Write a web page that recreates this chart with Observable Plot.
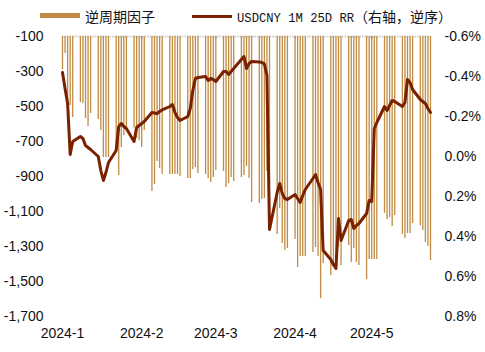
<!DOCTYPE html>
<html>
<head>
<meta charset="utf-8">
<script src="https://cdn.jsdelivr.net/npm/d3@7"></script>
<script src="https://cdn.jsdelivr.net/npm/@observablehq/plot@0.6"></script>
<style>
  body { margin: 0; background: #fff; }
  #wrap { width: 485px; height: 352px; position: relative; background: #fff; }
  #legend { position: relative; width: 485px; height: 27px; }
  .sw { position: absolute; }
  .lt { position: absolute; top: 6px; line-height: 20px; font-size: 14px; color: #111;
        font-family: "Noto Sans CJK SC", sans-serif; white-space: nowrap; }
  .mono { font-family: "Liberation Mono", "DejaVu Sans Mono", monospace; font-size: 12.2px; }
</style>
</head>
<body>
<div id="wrap">
  <div id="legend">
    <div class="sw" style="left:40px;top:13px;width:40px;height:5px;background:#C08B42"></div>
    <div class="lt" style="left:85px">逆周期因子</div>
    <div class="sw" style="left:192px;top:15px;width:40px;height:3px;background:#7A2100"></div>
    <div class="lt" style="left:237px"><span class="mono">USDCNY 1M 25D RR</span>（右轴，逆序）</div>
  </div>
  <div id="chart"></div>
</div>
<script>
// Mondays of each week; each row below holds Mon..Fri values
const weekStarts = ["2024-01-01","2024-01-08","2024-01-15","2024-01-22","2024-01-29",
  "2024-02-05","2024-02-12","2024-02-19","2024-02-26","2024-03-04","2024-03-11",
  "2024-03-18","2024-03-25","2024-04-01","2024-04-08","2024-04-15","2024-04-22",
  "2024-04-29","2024-05-06","2024-05-13","2024-05-20"];

// 逆周期因子 (left axis)
const factor = [
  [-289, -197, -466, -494, -563],
  [-477, -483, -569, -614, -540],
  [-574, -637, -791, -791, -791],
  [-751, -894, -734, -666, -637],
  [-623, -683, -694, -734, -637],
  [-986, -946, -814, -854, -889],
  [-889, -889, -889, -889, -900],
  [-911, -911, -860, -849, -883],
  [-889, -911, -934, -906, -866],
  [-871, -963, -940, -906, -929],
  [-906, -894, -843, -911, -1049],
  [-1054, -1031, -1026, -871, -951],
  [-1231, -1083, -1283, -1323, -1311],
  [-1260, -1420, -1357, -1357, -1357],
  [-1334, -1306, -1357, -1597, -1397],
  [-1466, -1420, -1414, -1306, -1409],
  [-1294, -1391, -1311, -1391, -1409],
  [-1489, -1374, -1374, -1374, -1374],
  [-1111, -1146, -1134, -1186, -1123],
  [-1231, -1254, -1226, -1226, -1169],
  [-1180, -1209, -1277, -1300, -1380]
];

// USDCNY 1M 25D RR, % (right axis, reversed)
const rr = [
  [-0.42, -0.34, -0.265, -0.01, -0.075],
  [-0.10, -0.09, -0.055, -0.045, -0.035],
  [0.00, 0.07, 0.12, 0.08, 0.03],
  [-0.03, -0.15, -0.165, -0.15, -0.14],
  [-0.075, -0.145, -0.155, -0.165, -0.175],
  [-0.22, -0.218, -0.214, -0.225, -0.233],
  [-0.25, -0.26, -0.22, -0.195, -0.18],
  [-0.20, -0.24, -0.33, -0.39, -0.395],
  [-0.40, -0.38, -0.39, -0.385, -0.375],
  [-0.425, -0.425, -0.41, -0.425, -0.44],
  [-0.485, -0.50, -0.44, -0.465, -0.475],
  [-0.473, -0.47, -0.463, -0.405, 0.365],
  [0.18, 0.135, 0.185, 0.21, 0.215],
  [0.19, 0.21, 0.23, 0.195, 0.165],
  [0.11, 0.09, 0.13, 0.165, 0.47],
  [0.515, 0.54, 0.56, 0.31, 0.42],
  [0.32, 0.315, 0.36, 0.345, 0.335],
  [0.285, 0.22, 0.225, -0.14, -0.17],
  [-0.25, -0.23, -0.255, -0.28, -0.275],
  [-0.25, -0.27, -0.385, -0.37, -0.335],
  [-0.285, -0.275, -0.265, -0.24, -0.22]
];

const leftTicks = [-100, -300, -500, -700, -900, -1100, -1300, -1500, -1700];
const rightTicks = [-0.6, -0.4, -0.2, 0.0, 0.2, 0.4, 0.6, 0.8];
const rightLabels = ["-0.6%", "-0.4%", "-0.2%", "0.0%", "0.2%", "0.4%", "0.6%", "0.8%"];
const monthTicks = ["2024-01-01", "2024-02-01", "2024-03-01", "2024-04-01", "2024-05-01"];
const monthLabels = ["2024-1", "2024-2", "2024-3", "2024-4", "2024-5"];

const rows = [];
weekStarts.forEach((ws, w) => {
  const base = new Date(ws + "T00:00:00Z");
  for (let i = 0; i < 5; i++) {
    rows.push({ date: d3.utcDay.offset(base, i), factor: factor[w][i], rr: rr[w][i] });
  }
});

// right-axis values mapped onto the left scale
const y2 = d3.scaleLinear().domain([-0.6, 0.8]).range([-100, -1700]);
const monthDates = monthTicks.map(s => new Date(s + "T00:00:00Z"));

const chart = Plot.plot({
  width: 485,
  height: 325,
  marginLeft: 62,
  marginRight: 55,
  marginTop: 9,
  marginBottom: 36,
  style: { fontFamily: "'Liberation Sans', Arial, sans-serif", fontSize: "14px", background: "#fff", color: "#111", overflow: "visible" },
  x: { type: "utc", domain: [new Date("2024-01-01T00:00:00Z"), new Date("2024-05-24T00:00:00Z")], label: null },
  y: { domain: [-1700, -100], label: null },
  marks: [
    Plot.ruleY([-100], { stroke: "#cfcfcf", strokeWidth: 2, strokeDasharray: "1.5,1" }),
    Plot.ruleX(monthDates.slice(1), { y1: -100, y2: -118, stroke: "#c8c8c8", strokeWidth: 2 }),
    Plot.ruleX(rows, { x: "date", y1: -100, y2: "factor", stroke: "#C08B42", strokeWidth: 1.3 }),
    Plot.line(rows, { x: "date", y: d => y2(d.rr), stroke: "#7A2100", strokeWidth: 3, strokeLinejoin: "round", strokeLinecap: "round" }),
    Plot.axisY(leftTicks, { anchor: "left", tickSize: 0, tickPadding: 19, fontSize: 14, tickFormat: d => d.toLocaleString("en-US") }),
    Plot.axisY(rightTicks.map(v => y2(v)), { anchor: "right", tickSize: 0, tickPadding: 14, fontSize: 14, tickFormat: (d, i) => rightLabels[i] }),
    Plot.axisX(monthDates, { anchor: "bottom", tickSize: 0, tickPadding: 12, fontSize: 14, tickFormat: (d, i) => monthLabels[i] })
  ]
});
document.getElementById("chart").appendChild(chart);
</script>
</body>
</html>
